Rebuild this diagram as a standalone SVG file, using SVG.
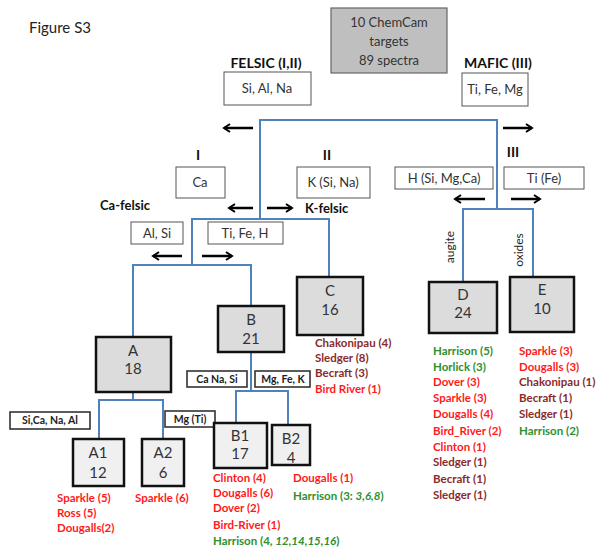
<svg xmlns="http://www.w3.org/2000/svg" width="604" height="552" viewBox="0 0 604 552">
<style>
text{font-family:Lato,"Liberation Sans",sans-serif;fill:#333}
.t{font-size:13px;text-anchor:middle}
.h{font-size:14px;font-weight:bold;fill:#111}
.lb{fill:#fff;stroke:#555;stroke-width:1}
.sb{fill:#fff;stroke:#333;stroke-width:1.6}
.st{font-size:10.5px;font-weight:bold;text-anchor:middle;fill:#222}
.nb{fill:#dcdcdc;stroke:#111;stroke-width:2.5}
.lf{fill:#f0f0f0;stroke:#111;stroke-width:2.5}
.nt{font-size:15px;text-anchor:middle;fill:#333}
.l{font-size:11.5px;font-weight:bold}
.r{fill:#ff1a1a}
.d{fill:#8b2a2a}
.g{fill:#2f8f2f}
.conn path{fill:none;stroke:#4f81bd;stroke-width:2}
.arr path{fill:none;stroke:#000;stroke-width:2.5}
</style>
<defs>
<marker id="ah" viewBox="0 0 10 10" refX="8" refY="5" markerWidth="10" markerHeight="10" markerUnits="userSpaceOnUse" orient="auto"><path d="M2,1 L8,5 L2,9" fill="none" stroke="#000" stroke-width="2"/></marker>
</defs>
<text x="29" y="33" style="font-size:15px;fill:#222">Figure S3</text>

<g id="root">
<rect x="331" y="8" width="116" height="65" fill="#bfbfbf" stroke="#666" stroke-width="1.2"/>
<text class="t" x="389" y="27">10 ChemCam</text>
<text class="t" x="389" y="46">targets</text>
<text class="t" x="389" y="65">89 spectra</text>
</g>

<g id="felsic-label">
<text class="h" x="266" y="68" text-anchor="middle">FELSIC (I,II)</text>
<rect class="lb" x="224" y="72" width="87" height="33"/>
<text class="t" x="267" y="93">Si, Al, Na</text>
</g>
<g id="mafic-label">
<text class="h" x="498" y="68" text-anchor="middle">MAFIC (III)</text>
<rect class="lb" x="462" y="73" width="66" height="33"/>
<text class="t" x="495" y="94">Ti, Fe, Mg</text>
</g>

<g id="group-I">
<text class="h" x="198" y="160" text-anchor="middle">I</text>
<rect class="lb" x="176" y="167" width="49" height="31"/>
<text class="t" x="200" y="187">Ca</text>
<text class="h" x="100" y="210" style="font-size:13px">Ca-felsic</text>
</g>
<g id="group-II">
<text class="h" x="327" y="160" text-anchor="middle">II</text>
<rect class="lb" x="297" y="167" width="73" height="31"/>
<text class="t" x="333" y="187">K (Si, Na)</text>
<text class="h" x="305" y="213" style="font-size:13px">K-felsic</text>
</g>
<g id="group-III">
<text class="h" x="513" y="157" text-anchor="middle">III</text>
<rect class="lb" x="395" y="167" width="98" height="22"/>
<text class="t" x="444" y="183">H (Si, Mg,Ca)</text>
<rect class="lb" x="504" y="167" width="80" height="22"/>
<text class="t" x="544" y="183">Ti (Fe)</text>
<text x="450" y="247" transform="rotate(-90 450 247)" style="font-size:12px;text-anchor:middle;fill:#222" dy="4">augite</text>
<text x="519" y="250" transform="rotate(-90 519 250)" style="font-size:12px;text-anchor:middle;fill:#222" dy="4">oxides</text>
</g>
<g id="ca-felsic-split">
<rect class="lb" x="131" y="222" width="52" height="22"/>
<text class="t" x="157" y="238">Al, Si</text>
<rect class="lb" x="208" y="222" width="75" height="22"/>
<text class="t" x="245" y="238">Ti, Fe, H</text>
</g>

<g class="conn" id="connectors">
<path d="M260,219 V120 H497 V209"/>
<path d="M192,265 V219 H329 V277"/>
<path d="M133,337 V265 H251 V306"/>
<path d="M133,392 V400"/>
<path d="M99,439 V400 H163 V439"/>
<path d="M251,352 V391"/>
<path d="M236,423 V391 H288 V425"/>
<path d="M463,282 V209 H533 V277"/>
</g>
<g class="arr" id="arrows">
<path d="M253,128 H224" marker-end="url(#ah)"/>
<path d="M503,128 H532" marker-end="url(#ah)"/>
<path d="M253,208 H229" marker-end="url(#ah)"/>
<path d="M267,208 H292" marker-end="url(#ah)"/>
<path d="M182,256 H153" marker-end="url(#ah)"/>
<path d="M202,256 H232" marker-end="url(#ah)"/>
<path d="M485,199 H455" marker-end="url(#ah)"/>
<path d="M511,199 H540" marker-end="url(#ah)"/>
</g>

<g id="node-A">
<rect class="nb" x="96" y="337" width="75" height="55"/>
<text class="nt" x="133" y="356">A</text>
<text class="nt" x="133" y="374">18</text>
<rect class="sb" x="10" y="412" width="80" height="17"/>
<text class="st" x="50" y="424">Si,Ca, Na, Al</text>
<rect class="sb" x="165" y="411" width="50" height="16"/>
<text class="st" x="190" y="423">Mg (Ti)</text>
</g>
<g id="node-B">
<rect class="nb" x="218" y="306" width="66" height="46"/>
<text class="nt" x="251" y="325">B</text>
<text class="nt" x="251" y="344">21</text>
<rect class="sb" x="187" y="371" width="60" height="16"/>
<text class="st" x="217" y="383">Ca Na, Si</text>
<rect class="sb" x="255" y="371" width="55" height="16"/>
<text class="st" x="283" y="383">Mg, Fe, K</text>
</g>
<g id="node-C">
<rect class="nb" x="297" y="277" width="66" height="58"/>
<text class="nt" x="330" y="296">C</text>
<text class="nt" x="330" y="315">16</text>
<text class="l d" x="315" y="347">Chakonipau (4)</text>
<text class="l d" x="315" y="362">Sledger (8)</text>
<text class="l d" x="315" y="377">Becraft (3)</text>
<text class="l r" x="315" y="393">Bird River (1)</text>
</g>
<g id="node-D">
<rect class="nb" x="429" y="282" width="68" height="51"/>
<text class="nt" x="463" y="300">D</text>
<text class="nt" x="463" y="318">24</text>
<text class="l g" x="433" y="355">Harrison (5)</text>
<text class="l g" x="433" y="371">Horlick (3)</text>
<text class="l r" x="433" y="386">Dover (3)</text>
<text class="l r" x="433" y="402">Sparkle (3)</text>
<text class="l r" x="433" y="418">Dougalls (4)</text>
<text class="l r" x="433" y="435">Bird_River (2)</text>
<text class="l r" x="433" y="451">Clinton (1)</text>
<text class="l d" x="433" y="466">Sledger (1)</text>
<text class="l d" x="433" y="483">Becraft (1)</text>
<text class="l d" x="433" y="499">Sledger (1)</text>
</g>
<g id="node-E">
<rect class="nb" x="510" y="277" width="64" height="55"/>
<text class="nt" x="542" y="295">E</text>
<text class="nt" x="542" y="314">10</text>
<text class="l r" x="519" y="355">Sparkle (3)</text>
<text class="l r" x="519" y="371">Dougalls (3)</text>
<text class="l d" x="519" y="386">Chakonipau (1)</text>
<text class="l d" x="519" y="402">Becraft (1)</text>
<text class="l d" x="519" y="418">Sledger (1)</text>
<text class="l g" x="519" y="435">Harrison (2)</text>
</g>
<g id="node-A1">
<rect class="lf" x="73" y="439" width="51" height="47"/>
<text class="nt" x="98" y="458">A1</text>
<text class="nt" x="98" y="478">12</text>
<text class="l r" x="57" y="502">Sparkle (5)</text>
<text class="l r" x="57" y="517">Ross (5)</text>
<text class="l r" x="57" y="532">Dougalls(2)</text>
</g>
<g id="node-A2">
<rect class="lf" x="142" y="439" width="42" height="47"/>
<text class="nt" x="163" y="458">A2</text>
<text class="nt" x="163" y="478">6</text>
<text class="l r" x="135" y="502">Sparkle (6)</text>
</g>
<g id="node-B1">
<rect class="lf" x="214" y="423" width="53" height="45"/>
<text class="nt" x="240" y="441">B1</text>
<text class="nt" x="240" y="459">17</text>
<text class="l r" x="213" y="482">Clinton (4)</text>
<text class="l r" x="213" y="497">Dougalls (6)</text>
<text class="l r" x="213" y="512">Dover (2)</text>
<text class="l r" x="213" y="529">Bird-River (1)</text>
<text class="l g" x="213" y="545">Harrison (4, <tspan font-style="italic">12,14,15,16</tspan>)</text>
</g>
<g id="node-B2">
<rect class="lf" x="272" y="425" width="38" height="40"/>
<text class="nt" x="291" y="444">B2</text>
<text class="nt" x="291" y="463">4</text>
<text class="l r" x="293" y="482">Dougalls (1)</text>
<text class="l g" x="293" y="500">Harrison (3: <tspan font-style="italic">3,6,8</tspan>)</text>
</g>
</svg>
